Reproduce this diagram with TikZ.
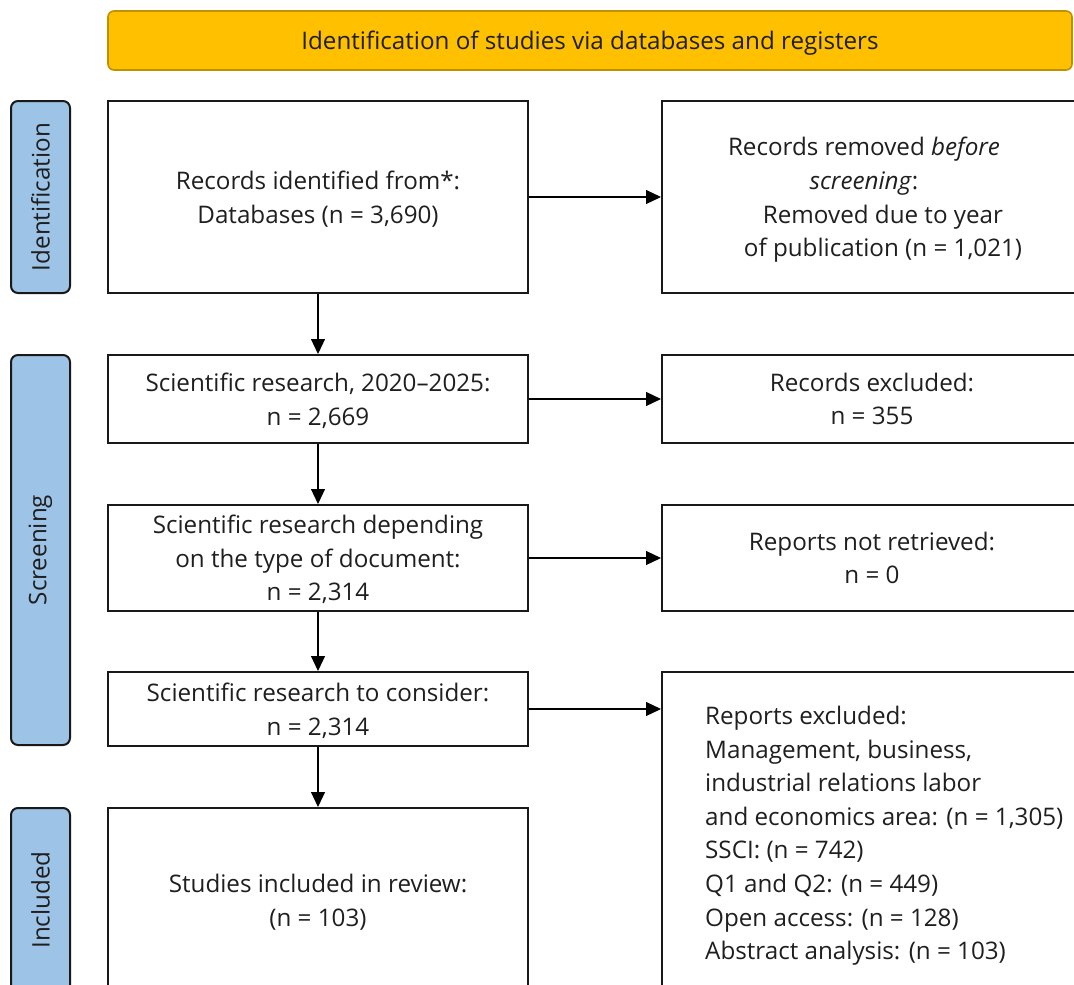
\documentclass[tikz,border=0pt]{standalone}
\usepackage{fontspec}
\setmainfont{Open Sans}
\usetikzlibrary{arrows.meta,calc}
\definecolor{hdr}{HTML}{FFC000}
\definecolor{hdrb}{HTML}{BF9000}
\definecolor{side}{HTML}{9DC3E6}
\begin{document}
\begin{tikzpicture}[x=1pt,y=-1pt,
  every node/.style={font=\fontsize{24.2}{33.6}\selectfont, text=black!88},
  flowbox/.style={draw=black!90, line width=2pt, fill=white, align=center, inner sep=0pt, text depth=0pt},
  sidebox/.style={draw=black!90, line width=2pt, fill=side, rounded corners=7pt, inner sep=0pt, rotate=90, minimum height=59pt},
  arr/.style={line width=1.2pt, draw=black, -{Triangle[length=15pt,width=14pt]}}]
\useasboundingbox (0,0) rectangle (1074,985);
\clip (0,0) rectangle (1074,985);

% header
\node[draw=hdrb, line width=1.6pt, fill=hdr, rounded corners=6pt, minimum width=964pt, minimum height=59pt, inner sep=0pt, text depth=0pt] (hdr) at (590,40.5) {Identification of studies via databases and registers};

% side labels
\node[sidebox, minimum width=192pt] (sid) at (40.5,197) {Identification};
\node[sidebox, minimum width=390pt] (sscr) at (40.5,550) {Screening};
\node[sidebox, minimum width=184pt] (sinc) at (40.5,900) {Included};

% left column
\node[flowbox, minimum width=420pt, minimum height=192pt] (b1) at (318,197) {Records identified from*:\\Databases (n = 3,690)};
\node[flowbox, minimum width=420pt, minimum height=88pt] (b2) at (318,399) {Scientific research, 2020--2025:\\n = 2,669};
\node[flowbox, minimum width=420pt, minimum height=106pt] (b3) at (318,558) {Scientific research depending\\on the type of document:\\n = 2,314};
\node[flowbox, minimum width=420pt, minimum height=74pt] (b4) at (318,709) {Scientific research to consider:\\n = 2,314};
\node[flowbox, minimum width=420pt, minimum height=184pt] (b5) at (318,900) {Studies included in review:\\(n = 103)};

% right column
\node[flowbox, minimum width=420pt, minimum height=192pt] (r1) at (872,197) {\hspace*{-16pt}Records removed \textit{before}\\\hspace*{-16pt}\textit{screening}:\\\hspace*{22pt}Removed due to year\\\hspace*{22pt}of publication (n = 1,021)};
\node[flowbox, minimum width=420pt, minimum height=88pt] (r2) at (872,399) {Records excluded:\\n = 355};
\node[flowbox, minimum width=420pt, minimum height=106pt] (r3) at (872,558) {Reports not retrieved:\\n = 0};
\node[flowbox, minimum width=420pt, minimum height=320pt] (r4) at (872,832) {};
\node[anchor=north west, align=left, inner sep=0pt] (r4t) at ($(r4.north west)+(44,35)$) {Reports excluded:\\Management, business,\\industrial relations labor\\and economics area: (n = 1,305)\\SSCI: (n = 742)\\Q1 and Q2: (n = 449)\\Open access: (n = 128)\\Abstract analysis: (n = 103)};

% connectors
\draw[arr] (b1) -- (b2);
\draw[arr] (b2) -- (b3);
\draw[arr] (b3) -- (b4);
\draw[arr] (b4) -- (b5);
\draw[arr] (b1) -- (r1);
\draw[arr] (b2) -- (r2);
\draw[arr] (b3) -- (r3);
\draw[arr] (b4.east) -- (b4.east -| r4.west);
\end{tikzpicture}
\end{document}
